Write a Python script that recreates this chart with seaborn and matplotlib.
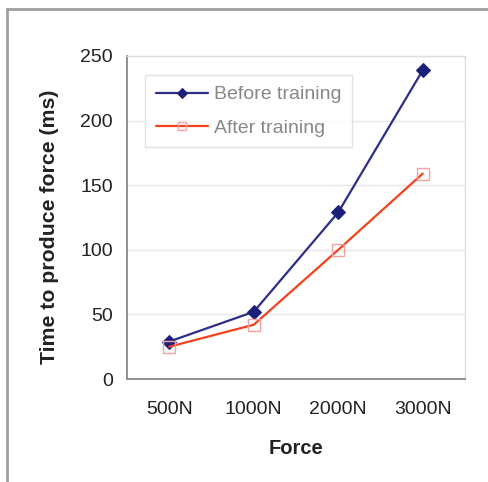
import matplotlib
matplotlib.use("Agg")
import matplotlib.pyplot as plt
from matplotlib.lines import Line2D
from matplotlib.ticker import FixedLocator
import seaborn as sns
import pandas as pd

forces = ["500N", "1000N", "2000N", "3000N"]
before_training = [29, 52, 129, 239]
after_training = [25, 42, 100, 159]

sns.set_theme(style="white")
plt.rcParams["font.family"] = ["Liberation Sans", "DejaVu Sans"]

df = pd.DataFrame({
    "Force": forces * 2,
    "Time": before_training + after_training,
    "Series": ["Before training"] * 4 + ["After training"] * 4,
})
df["pos"] = list(range(len(forces))) * 2

fig = plt.figure(figsize=(4.89, 4.82), dpi=100)
ax = fig.add_axes([127 / 489, 1 - 379 / 482, (465 - 127) / 489, (379 - 56) / 482])

palette = {"Before training": "#2e2e8a", "After training": "#f5401e"}
sns.lineplot(data=df[df.Series == "Before training"], x="pos", y="Time",
             color=palette["Before training"], lw=1.6, marker="D", markersize=7,
             markerfacecolor="#1b1f78", markeredgecolor="#1b1f78",
             label="Before training", ax=ax)
sns.lineplot(data=df[df.Series == "After training"], x="pos", y="Time",
             color=palette["After training"], lw=1.6, marker="s", markersize=8,
             markerfacecolor="none", markeredgecolor="#f7a0a0", markeredgewidth=1.0,
             label="After training", ax=ax)

ax.set_xlim(-0.5, 3.5)
ax.set_ylim(0, 250)
ax.set_yticks([0, 50, 100, 150, 200, 250])
ax.yaxis.grid(True, color="#e6e6e6", lw=1)
ax.set_axisbelow(True)

# category labels centred, tick marks at category boundaries
ax.set_xticks(range(len(forces)))
ax.set_xticklabels(forces)
ax.tick_params(axis="x", which="major", length=0, pad=16, labelsize=14, labelcolor="#222222")
ax.xaxis.set_minor_locator(FixedLocator([-0.5, 0.5, 1.5, 2.5, 3.5]))
ax.tick_params(axis="x", which="minor", length=5, width=1.2, color="#888888", direction="out")
ax.tick_params(axis="y", which="major", length=5, width=1.2, color="#888888",
               direction="out", labelsize=14, labelcolor="#222222", pad=5)

for side in ["left", "bottom"]:
    ax.spines[side].set_color("#888888")
    ax.spines[side].set_linewidth(1.3)
for side in ["top", "right"]:
    ax.spines[side].set_color("#dddddd")
    ax.spines[side].set_linewidth(1.0)

ax.set_xlabel("Force", fontsize=14.5, fontweight="bold", color="#222222", labelpad=15)
ax.set_ylabel("Time to produce force (ms)", fontsize=15.3, fontweight="bold",
              color="#222222")
ax.yaxis.set_label_coords(-0.2, 0.472)

leg = ax.legend(loc="upper left", bbox_to_anchor=(0.053, 0.941), borderaxespad=0,
                frameon=True, fancybox=False, edgecolor="#dddddd", fontsize=14,
                handlelength=2.7, borderpad=0.55, labelspacing=0.8, handletextpad=0.3,
                markerscale=0.8)
leg.get_frame().set_linewidth(1.0)
for t in leg.get_texts():
    t.set_color("#888888")

# outer frame: top and left edges
fig.add_artist(Line2D([7.5 / 489, 1.0], [1 - 8.5 / 482, 1 - 8.5 / 482],
                      transform=fig.transFigure, color="#a0a0a0", lw=2))
fig.add_artist(Line2D([7.5 / 489, 7.5 / 489], [1 - 8.5 / 482, 0.0],
                      transform=fig.transFigure, color="#a0a0a0", lw=2))

fig.savefig("out.png", dpi=100)
